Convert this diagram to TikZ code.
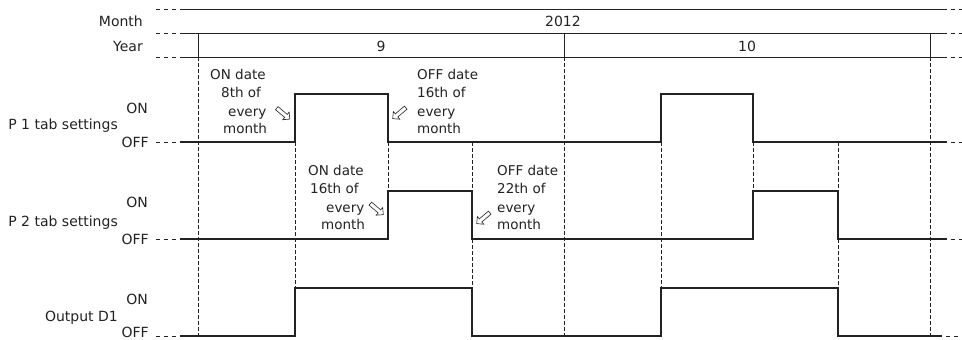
\documentclass[tikz,border=0pt]{standalone}
\usepackage{fontspec}
\setmainfont{DejaVu Sans}
\usetikzlibrary{shapes.arrows}
\definecolor{ink}{HTML}{222222}
\begin{document}
\begin{tikzpicture}[x=1pt,y=-1pt,
  lbl/.style={inner sep=0pt, font=\fontsize{14}{16}\selectfont, text=ink},
  lblr/.style={lbl, anchor=base east},
  lbll/.style={lbl, anchor=base west, font=\fontsize{13.5}{16}\selectfont},
  lblc/.style={lbl, anchor=base},
  sig/.style={line width=1.7pt, draw=ink, line join=miter},
  gridl/.style={line width=0.9pt, draw=ink},
  vdash/.style={line width=0.8pt, draw=ink, dash pattern=on 3.5pt off 2.5pt},
  hdash/.style={line width=0.9pt, draw=ink, dash pattern=on 4pt off 4pt},
  hdashr/.style={hdash, dash phase=4pt},
  harrow/.style={single arrow, draw=ink, line width=0.6pt, fill=white,
    minimum height=17pt, minimum width=10pt, single arrow head extend=3pt,
    single arrow head indent=0pt, inner sep=1.7pt}
]
\path[use as bounding box] (0,0) rectangle (962,340);

% header rows
\foreach \y in {9,33,57} {
  \draw[gridl] (180,\y) -- (947,\y);
  \draw[hdash] (156,\y) -- (180,\y);
  \draw[hdashr] (947,\y) -- (962,\y);
}
\foreach \x in {198,564,930} {
  \draw[gridl] (\x,33) -- (\x,57);
  \draw[vdash] (\x,57) -- (\x,336);
}
\node[lblr] (month) at (143,27) {Month};
\node[lblr] (year) at (143,51) {Year};
\node[lblc] (y2012) at (563,27) {2012};
\node[lblc] (m9) at (381,51) {9};
\node[lblc] (m10) at (747,51) {10};

% dashed guide lines at transitions
\draw[vdash] (295,142) -- (295,288);
\draw[vdash] (388,142) -- (388,191);
\draw[vdash] (472,142) -- (472,191);
\draw[vdash] (472,239) -- (472,288);
\draw[vdash] (661,142) -- (661,288);
\draw[vdash] (753,142) -- (753,191);
\draw[vdash] (838,142) -- (838,191);
\draw[vdash] (838,239) -- (838,288);

% P1
\draw[hdash] (156,142) -- (180,142);
\draw[sig] (180,142) -- (295,142) -- (295,94) -- (388,94) -- (388,142) -- (661,142)
  -- (661,94) -- (753,94) -- (753,142) -- (947,142);
\draw[hdashr] (947,142) -- (962,142);
% P2
\draw[hdash] (156,239) -- (180,239);
\draw[sig] (180,239) -- (388,239) -- (388,191) -- (472,191) -- (472,239) -- (753,239)
  -- (753,191) -- (838,191) -- (838,239) -- (947,239);
\draw[hdashr] (947,239) -- (962,239);
% D1
\draw[hdash] (156,336) -- (180,336);
\draw[sig] (180,336) -- (295,336) -- (295,288) -- (472,288) -- (472,336) -- (661,336)
  -- (661,288) -- (838,288) -- (838,336) -- (942,336);
\draw[hdashr] (942,336) -- (962,336);

% row labels
\node[lblr] (p1on) at (148,113) {ON};
\node[lblr] (p1name) at (118,129) {P 1 tab settings};
\node[lblr] (p1off) at (149,147) {OFF};
\node[lblr] (p2on) at (148,207) {ON};
\node[lblr] (p2name) at (118,226) {P 2 tab settings};
\node[lblr] (p2off) at (149,244) {OFF};
\node[lblr] (d1on) at (148,304) {ON};
\node[lblr] (d1name) at (118,321) {Output D1};
\node[lblr] (d1off) at (149,337.5) {OFF};

% annotation 1
\node[lbll] (a1l1) at (210,79) {ON date};
\node[lbll] (a1l2) at (221,97) {8th of};
\node[lbll] (a1l3) at (228,116) {every};
\node[lbll] (a1l4) at (223,133) {month};
\node[harrow, rotate=-40] (a1arr) at (282.5,113) {};
% annotation 2
\node[lbll] (a2l1) at (417,79) {OFF date};
\node[lbll] (a2l2) at (417,97) {16th of};
\node[lbll] (a2l3) at (417,116) {every};
\node[lbll] (a2l4) at (417,133) {month};
\node[harrow, rotate=-140] (a2arr) at (400,112.5) {};
% annotation 3
\node[lbll] (a3l1) at (308,175) {ON date};
\node[lbll] (a3l2) at (310,193) {16th of};
\node[lbll] (a3l3) at (326,212) {every};
\node[lbll] (a3l4) at (321,229) {month};
\node[harrow, rotate=-40] (a3arr) at (376,208.5) {};
% annotation 4
\node[lbll] (a4l1) at (497,175) {OFF date};
\node[lbll] (a4l2) at (497,193) {22th of};
\node[lbll] (a4l3) at (497,212) {every};
\node[lbll] (a4l4) at (497,229) {month};
\node[harrow, rotate=-140] (a4arr) at (484,217.5) {};
\end{tikzpicture}
\end{document}
